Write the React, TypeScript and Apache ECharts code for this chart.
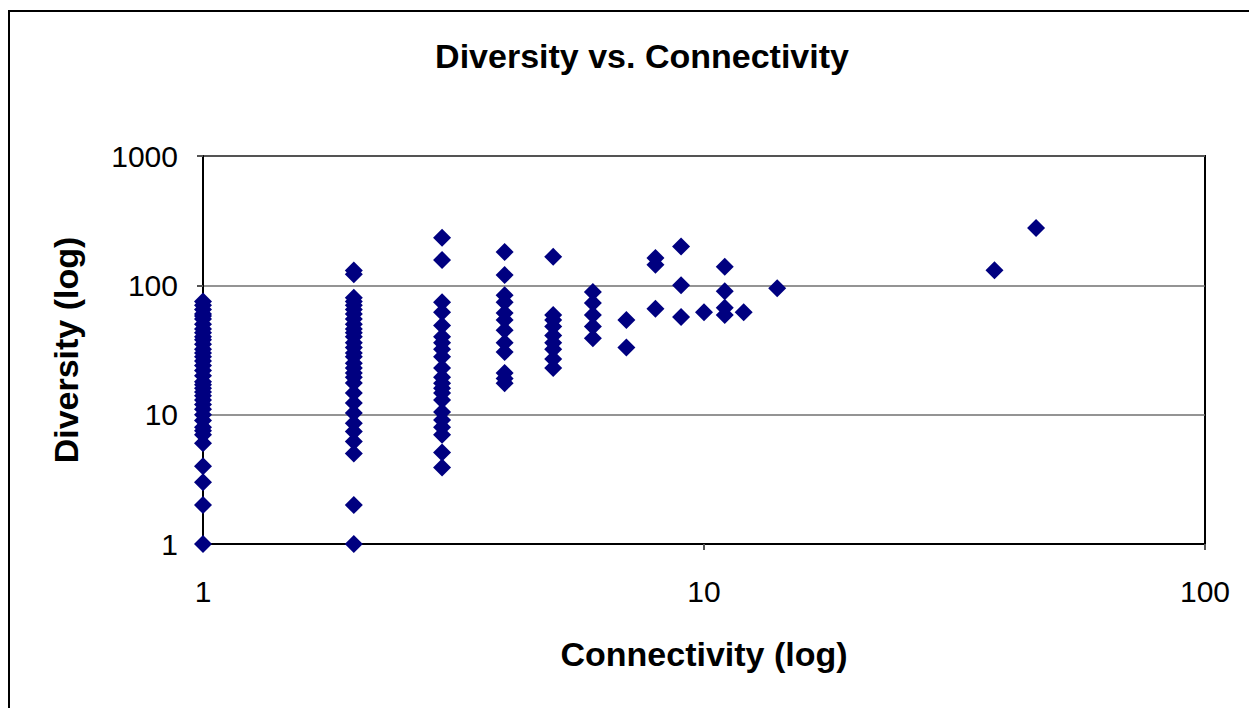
import React, { useEffect, useRef } from "react";
import * as echarts from "echarts";

const connectivity1 = [1];
const diversity1 = [1, 2, 3, 4, 6, 7, 7.5, 8, 9, 10, 11, 12, 13, 14, 15, 16, 17, 18, 20, 22, 24, 26, 28, 30, 32, 35, 38, 40, 43, 46, 50, 55, 58, 60, 65, 70, 75];
const diversity2 = [1, 2, 5, 6.2, 7.4, 8.6, 10.3, 12.3, 14.7, 17.6, 19.5, 21, 23, 25, 28, 30, 33, 36, 40, 43, 46, 50, 55, 60, 65, 70, 75, 80, 122, 130];
const diversity3 = [3.9, 5.1, 7, 8, 9.1, 10.5, 13, 14.7, 16, 17.5, 19.5, 23, 28, 32, 36, 40, 49, 62, 74, 157, 233];
const diversity4 = [17.5, 19, 21, 30.5, 36, 45, 54, 61, 74, 84, 120, 181];
const diversity5 = [23, 27, 32, 36, 41, 48, 54, 59, 166];
const diversity6 = [39, 48, 59, 73, 89];
const diversity7 = [33, 54];
const diversity8 = [66, 144, 163];
const diversity9 = [57, 100, 200];
const diversity10 = [62];
const diversity11 = [59, 67, 90, 139];
const diversity12 = [62];
const diversity14 = [95];
const diversity38 = [131];
const diversity46 = [278];

const columns: [number, number[]][] = [
  [connectivity1[0], diversity1],
  [2, diversity2],
  [3, diversity3],
  [4, diversity4],
  [5, diversity5],
  [6, diversity6],
  [7, diversity7],
  [8, diversity8],
  [9, diversity9],
  [10, diversity10],
  [11, diversity11],
  [12, diversity12],
  [14, diversity14],
  [38, diversity38],
  [46, diversity46],
];

const xTicks = [1, 10, 100];
const yTicks = [1, 10, 100, 1000];

export default function App() {
  const ref = useRef<HTMLDivElement>(null);
  useEffect(() => {
    if (!ref.current) return;
    const chart = echarts.init(ref.current, undefined, { renderer: "svg" });
    const data: number[][] = [];
    columns.forEach(([x, ys]) => ys.forEach((y) => data.push([x, y])));
    const font = "'Liberation Sans', Arial, sans-serif";
    chart.setOption({
      animation: false,
      backgroundColor: "#ffffff",
      title: {
        text: "Diversity vs. Connectivity",
        left: 637,
        textAlign: "center",
        top: 34,
        textStyle: { fontFamily: font, fontWeight: "bold", fontSize: 34, color: "#000" },
      },
      graphic: [
        {
          type: "rect",
          shape: { x: 9, y: 11, width: 1400, height: 900 },
          style: { fill: "none", stroke: "#000", lineWidth: 2 },
          silent: true,
        },
      ],
      grid: {
        left: 203,
        top: 156,
        right: 44,
        bottom: 164,
        show: true,
        borderColor: "#000",
        borderWidth: 2,
        backgroundColor: "transparent",
      },
      xAxis: {
        type: "log",
        logBase: 10,
        min: 1,
        max: 100,
        splitNumber: 2,
        name: "Connectivity (log)",
        nameLocation: "middle",
        nameGap: 93,
        nameTextStyle: { fontFamily: font, fontWeight: "bold", fontSize: 34, color: "#000" },
        axisLine: { show: true, lineStyle: { color: "#000", width: 2 } },
        axisTick: { show: true, length: 6, lineStyle: { color: "#555", width: 2 } },
        splitLine: { show: false },
        axisLabel: {
          margin: 32,
          fontFamily: font,
          fontSize: 30,
          color: "#000",
          formatter: (v: number) => (xTicks.includes(Math.round(v)) ? String(Math.round(v)) : ""),
        },
      },
      yAxis: {
        type: "log",
        logBase: 10,
        min: 1,
        max: 1000,
        splitNumber: 3,
        name: "Diversity (log)",
        nameLocation: "middle",
        nameGap: 120,
        nameTextStyle: { fontFamily: font, fontWeight: "bold", fontSize: 34, color: "#000" },
        axisLine: { show: true, lineStyle: { color: "#000", width: 2 } },
        axisTick: { show: true, length: 6, lineStyle: { color: "#555", width: 2 } },
        splitLine: { show: true, lineStyle: { color: "#707070", width: 1.5 } },
        axisLabel: {
          margin: 25,
          fontFamily: font,
          fontSize: 30,
          color: "#000",
          formatter: (v: number) => (yTicks.includes(Math.round(v)) ? String(Math.round(v)) : ""),
        },
      },
      series: [
        {
          type: "scatter",
          data,
          symbol: "diamond",
          symbolSize: 18,
          itemStyle: { color: "#000080", opacity: 1 },
        },
      ],
    });
    return () => chart.dispose();
  }, []);
  return (
    <div
      ref={ref}
      style={{ position: "fixed", left: 0, top: 0, width: 1249, height: 708, background: "#fff" }}
    />
  );
}
